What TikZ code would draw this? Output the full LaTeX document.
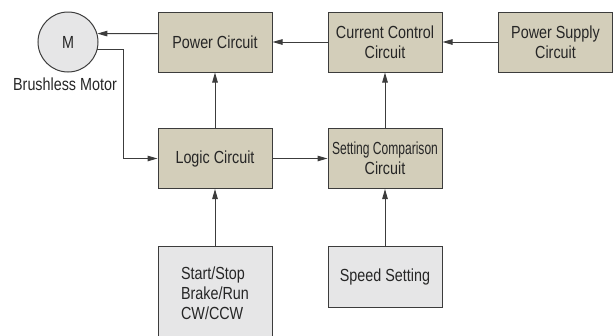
\documentclass[tikz,border=0pt]{standalone}
\usepackage{fontspec}
\setmainfont{Liberation Sans}[FakeStretch=0.82]
\usepackage{graphicx}
\usetikzlibrary{arrows.meta,calc}
\definecolor{tanfill}{RGB}{211,206,186}
\definecolor{grayfill}{RGB}{230,230,231}
\definecolor{edge}{RGB}{60,60,60}
\begin{document}
\begin{tikzpicture}[x=1pt,y=-1pt,
  lbl/.style={font=\fontsize{17.5}{20}\selectfont, text=black!85},
  box/.style={lbl, draw=edge, line width=1pt, minimum width=114pt, minimum height=60pt, inner sep=0pt, align=center},
  tanbox/.style={box, fill=tanfill},
  graybox/.style={box, fill=grayfill},
  arr/.style={draw=edge, line width=1pt, -{Triangle[length=10pt,width=5.5pt]}}]
\useasboundingbox (0,0) rectangle (613,335);
\clip (0,0) rectangle (613,335);
\node[lbl, circle, draw=edge, line width=1pt, fill=grayfill, minimum size=60pt, inner sep=0pt] (motor) at (68,42) {M};
\node[lbl, inner sep=0pt] (bm) at (65,84) {Brushless Motor};
\node[tanbox] (pc) at (215,42) {Power Circuit};
\node[tanbox] (cc) at (385,42) {Current Control\\Circuit};
\node[tanbox] (ps) at (555.5,42) {Power Supply\\Circuit};
\node[tanbox] (lc) at (215,158.5) {Logic Circuit};
\node[tanbox] (sc) at (385,158.5) {\scalebox{0.84}[1]{Setting Comparison}\\Circuit};
\node[graybox, minimum height=95pt, align=left] (ss) at (215,293.5) {Start/Stop\\Brake/Run\\CW/CCW};
\node[graybox, minimum height=61pt] (sp) at (385,276.5) {Speed Setting};
\draw[arr] (ps.west) -- (cc.east);
\draw[arr] (cc.west) -- (pc.east);
\draw[arr] ([yshift=8.5pt]pc.west) -- (motor.16.5);
\draw[arr] (motor.-15.5) -| ([xshift=-34pt]lc.west) -- (lc.west);
\draw[arr] (lc.north) -- (pc.south);
\draw[arr] (sc.north) -- (cc.south);
\draw[arr] (lc.east) -- (sc.west);
\draw[arr] (ss.north) -- (lc.south);
\draw[arr] (sp.north) -- (sc.south);
\end{tikzpicture}
\end{document}
